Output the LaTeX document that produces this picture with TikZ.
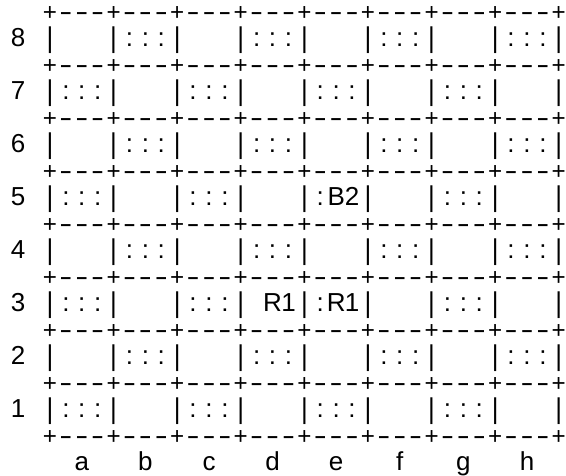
\documentclass[tikz,border=0pt]{standalone}
\usepackage{fontspec}
\setmainfont{Liberation Sans}
\usepackage{graphicx}
\begin{document}
\begin{tikzpicture}[x=1pt,y=-1pt,
  ch/.style={inner sep=0pt,anchor=base,font=\fontsize{26}{26}\selectfont}]
\useasboundingbox[fill=white] (0,0) rectangle (566,475);
\newcommand\cx[1]{18.2+15.9*(#1)}
\newcommand\by[1]{20+26.5*(#1)}
\newcommand\plusglyph{\makebox[10pt]{\scalebox{0.93}{+}}}
\newcommand\dashglyph{\scalebox{1.5}[1]{-}}
\newcommand\barglyph{\raisebox{-1pt}{\scalebox{1}[1.1]{|}}}
% border lines
\foreach \l in {0,2,...,16}{
  \foreach \k in {0,...,8}{
    \node[ch] at ({\cx{2+4*\k}},{\by{\l}}) {\plusglyph};
  }
  \foreach \k in {0,...,7}{
    \foreach \j in {1,2,3}{
      \node[ch] at ({\cx{2+4*\k+\j}},{\by{\l}}) {\dashglyph};
    }
  }
}
% rank rows
\foreach \r in {1,...,8}{
  \pgfmathtruncatemacro\ln{17-2*\r}
  \node[ch] at ({\cx{0}},{\by{\ln}}) {\r};
  \foreach \k in {0,...,8}{
    \node[ch] at ({\cx{2+4*\k}},{\by{\ln}}) {\barglyph};
  }
  \foreach \k in {0,...,7}{
    \ifodd\numexpr\k+\r\relax
      \ifnum\numexpr10*\k+\r\relax=45 \else
      \ifnum\numexpr10*\k+\r\relax=43 \else
        \foreach \j in {3,4,5}{
          \node[ch] at ({\cx{4*\k+\j}},{\by{\ln}}) {:};
        }
      \fi\fi
    \fi
  }
}
% pieces
\node[ch] (b2c) at ({\cx{19}},{\by{7}}) {:};
\node[ch] (b2a) at ({\cx{20}},{\by{7}}) {B};
\node[ch] (b2b) at ({\cx{21}},{\by{7}}) {2};
\node[ch] (r1a) at ({\cx{16}},{\by{11}}) {R};
\node[ch] (r1b) at ({\cx{17}},{\by{11}}) {1};
\node[ch] (r2c) at ({\cx{19}},{\by{11}}) {:};
\node[ch] (r2a) at ({\cx{20}},{\by{11}}) {R};
\node[ch] (r2b) at ({\cx{21}},{\by{11}}) {1};
% file letters
\foreach \f [count=\i from 0] in {a,b,c,d,e,f,g,h}{
  \node[ch] at ({\cx{4+4*\i}},{\by{17}}) {\f};
}
\end{tikzpicture}
\end{document}
